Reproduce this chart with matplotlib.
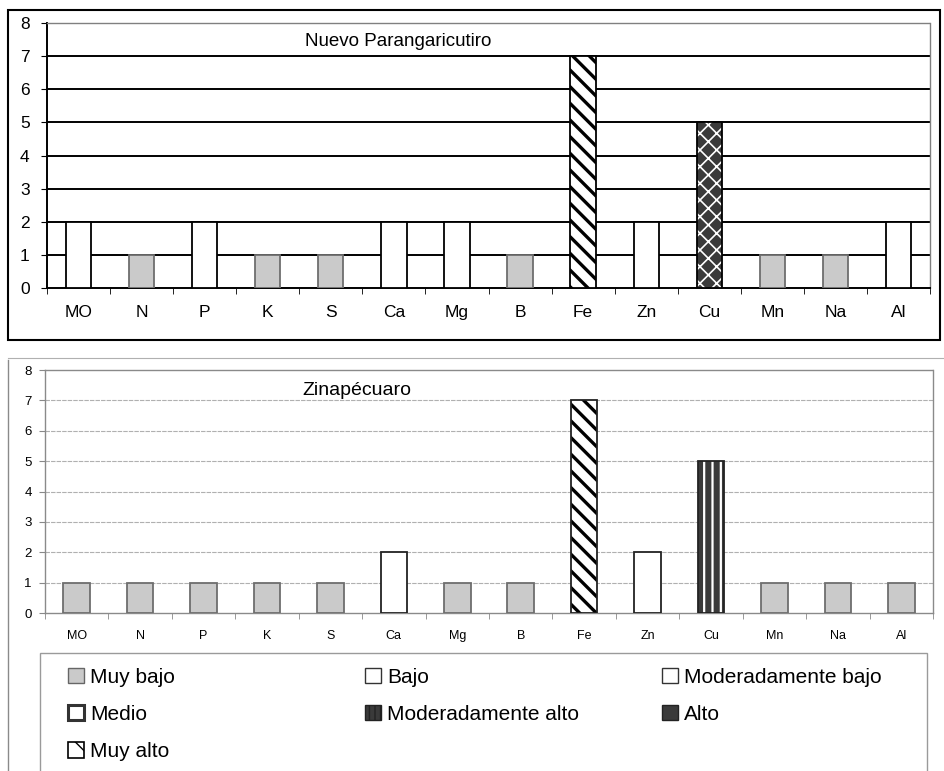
import numpy as np
import matplotlib
matplotlib.use("Agg")
import matplotlib.pyplot as plt
from matplotlib.patches import Patch, Rectangle
from matplotlib.lines import Line2D

plt.rcParams['font.family'] = ['Liberation Sans', 'DejaVu Sans']

# ---------------- data ----------------
elements = ["MO", "N", "P", "K", "S", "Ca", "Mg", "B", "Fe", "Zn", "Cu", "Mn", "Na", "Al"]

title_top = "Nuevo Parangaricutiro"
values_top = [2, 1, 2, 1, 1, 2, 2, 1, 7, 2, 5, 1, 1, 2]
levels_top = ["Bajo", "Muy bajo", "Bajo", "Muy bajo", "Muy bajo", "Bajo", "Bajo",
              "Muy bajo", "Muy alto", "Bajo", "Alto", "Muy bajo", "Muy bajo", "Bajo"]

title_bot = "Zinapécuaro"
values_bot = [1, 1, 1, 1, 1, 2, 1, 1, 7, 2, 5, 1, 1, 1]
levels_bot = ["Muy bajo", "Muy bajo", "Muy bajo", "Muy bajo", "Muy bajo", "Bajo", "Muy bajo",
              "Muy bajo", "Muy alto", "Bajo", "Moderadamente alto", "Muy bajo", "Muy bajo", "Muy bajo"]

legend_labels = ["Muy bajo", "Bajo", "Moderadamente bajo", "Medio",
                 "Moderadamente alto", "Alto", "Muy alto"]
yticks = [0, 1, 2, 3, 4, 5, 6, 7, 8]

# ---------------- styles ----------------
styles = {
    "Muy bajo":           dict(face="#cacaca", hatch=None, hcolor=None, hlw=1.0),
    "Bajo":               dict(face="white", hatch=None, hcolor=None, hlw=1.0),
    "Moderadamente bajo": dict(face="white", hatch=None, hcolor=None, hlw=1.0),
    "Medio":              dict(face="white", hatch=None, hcolor=None, hlw=1.0),
    "Moderadamente alto": dict(face="#3a3a3a", hatch="||", hcolor="white", hlw=1.6),
    "Alto":               dict(face="#3a3a3a", hatch="xx", hcolor="white", hlw=1.2),
    "Muy alto":           dict(face="white", hatch="\\\\", hcolor="black", hlw=2.4),
}

W, H = 944, 771
fig = plt.figure(figsize=(W / 100, H / 100), dpi=100)


def fx(px):
    return px / W


def fy(py):
    return 1 - py / H


def draw_bars(ax, values, levels, edge_main, width):
    x = np.arange(len(elements))
    for lev in legend_labels:
        idx = [i for i, l in enumerate(levels) if l == lev]
        if not idx:
            continue
        st = styles[lev]
        xs = x[idx]
        vs = np.array(values)[idx]
        ax.bar(xs, vs, width=width, color=st["face"], edgecolor="none", linewidth=0, zorder=3)
        if st["hatch"]:
            with plt.rc_context({"hatch.linewidth": st["hlw"]}):
                ax.bar(xs, vs, width=width, facecolor="none", edgecolor=st["hcolor"],
                       hatch=st["hatch"], linewidth=0, zorder=4)
        ec = "#6e6e6e" if lev == "Muy bajo" else edge_main
        ax.bar(xs, vs, width=width, facecolor="none", edgecolor=ec, linewidth=1.3, zorder=5)


def setup_axis(ax, label_size, ylabel_size, tick_color, ypad):
    ax.set_xlim(-0.5, len(elements) - 0.5)
    ax.set_ylim(0, 8)
    ax.set_yticks(yticks)
    ax.set_yticklabels([str(t) for t in yticks], fontsize=ylabel_size)
    ax.set_xticks(np.arange(len(elements)))
    ax.set_xticklabels(elements, fontsize=label_size)
    ax.set_xticks(np.arange(-0.5, len(elements), 1), minor=True)
    ax.tick_params(axis="x", which="major", length=0, pad=12)
    ax.tick_params(axis="x", which="minor", length=4, direction="out", color=tick_color)
    ax.tick_params(axis="y", length=4, direction="out", color=tick_color, pad=ypad)


# ---------------- top panel ----------------
ax1 = fig.add_axes([fx(47), fy(288), fx(930) - fx(47), fy(23) - fy(288)])
for y in yticks[1:-1]:
    ax1.axhline(y, color="black", lw=1.4, zorder=1)
draw_bars(ax1, values_top, levels_top, "black", 0.4)
setup_axis(ax1, 12.5, 12.5, "black", 8.5)
ax1.spines["left"].set_color("black")
ax1.spines["left"].set_linewidth(1.4)
ax1.spines["bottom"].set_color("black")
ax1.spines["bottom"].set_linewidth(1.4)
for s in ("top", "right"):
    ax1.spines[s].set_color("#808080")
    ax1.spines[s].set_linestyle((0, (1, 1)))
    ax1.spines[s].set_linewidth(1.0)
ax1.text(3.59, 7.43, title_top, fontsize=13.5, ha="left", va="center")

# ---------------- bottom panel ----------------
ax2 = fig.add_axes([fx(45), fy(613), fx(933) - fx(45), fy(370) - fy(613)])
for y in yticks[1:-1]:
    ax2.axhline(y, color="#b0b0b0", lw=0.8, ls=(0, (4, 1)), zorder=1)
draw_bars(ax2, values_bot, levels_bot, "#222222", 0.42)
setup_axis(ax2, 9, 9.5, "#888888", 5.5)
for s in ("top", "right", "left", "bottom"):
    ax2.spines[s].set_color("#8a8a8a")
    ax2.spines[s].set_linewidth(1.0)
ax2.spines["top"].set_linestyle((0, (1, 1)))
ax2.spines["right"].set_linestyle((0, (1, 1)))
ax2.spines["left"].set_linestyle((0, (1, 1)))
ax2.text(3.55, 7.31, title_bot, fontsize=14, ha="left", va="center")

# ---------------- frames ----------------
fig.add_artist(Rectangle((fx(8), fy(340)), fx(940) - fx(8), fy(10) - fy(340),
                         transform=fig.transFigure, facecolor="none",
                         edgecolor="black", lw=1.5))
fig.add_artist(Line2D([fx(8), fx(8)], [fy(360), fy(780)], transform=fig.transFigure,
                      color="#8a8a8a", lw=1.0))
fig.add_artist(Line2D([fx(8), fx(944)], [fy(358), fy(358)], transform=fig.transFigure,
                      color="#b0b0b0", lw=0.8))
fig.add_artist(Rectangle((fx(40), fy(790)), fx(927) - fx(40), fy(653) - fy(790),
                         transform=fig.transFigure, facecolor="none",
                         edgecolor="#9a9a9a", lw=1.0, clip_on=False))


# ---------------- legend ----------------
def handle(lev):
    st = styles[lev]
    kw = dict(facecolor=st["face"], edgecolor="#333333", linewidth=1.0)
    if lev == "Muy bajo":
        kw["edgecolor"] = "#666666"
    if lev == "Medio":
        kw["linewidth"] = 2.2
    if lev == "Muy alto":
        return Patch(facecolor="white", edgecolor="black", hatch="\\", linewidth=1.2)
    if lev == "Alto":
        return Patch(facecolor="#3a3a3a", edgecolor="#222222", linewidth=1.0)
    if lev == "Moderadamente alto":
        return Patch(facecolor="#3a3a3a", edgecolor="#222222", hatch="|||", linewidth=1.0)
    return Patch(**kw)


columns = [
    (68, ["Muy bajo", "Medio", "Muy alto"]),
    (365, ["Bajo", "Moderadamente alto"]),
    (662, ["Moderadamente bajo", "Alto"]),
]
for xpx, labs in columns:
    leg = fig.legend([handle(l) for l in labs], labs, loc="upper left",
                     bbox_to_anchor=(fx(xpx), fy(668)), frameon=False,
                     fontsize=15, handlelength=0.75, handleheight=0.75,
                     handletextpad=0.3, labelspacing=0.87, borderpad=0,
                     borderaxespad=0)

fig.savefig("out.png", dpi=100)
